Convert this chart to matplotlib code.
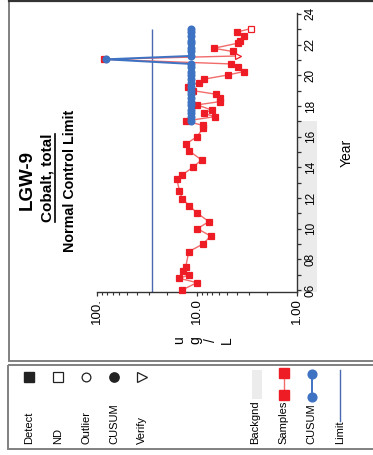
import matplotlib
matplotlib.use('Agg')
import matplotlib.pyplot as plt
import matplotlib.transforms as mtransforms
from matplotlib.patches import Rectangle
from matplotlib.lines import Line2D
from matplotlib.ticker import FixedLocator, FixedFormatter, LogLocator, NullFormatter, MultipleLocator

plt.rcParams['font.family'] = ['Liberation Sans', 'DejaVu Sans']

# ---------------- data ----------------
sample_years = [6.00, 6.48, 6.76, 6.98, 7.26, 7.48, 8.50, 9.00, 9.52, 10.00,
                10.46, 11.00, 11.48, 11.96, 12.48, 13.26, 13.50, 14.00, 14.48, 15.09,
                15.50, 16.00, 16.54, 16.74, 17.02, 17.30, 17.52, 17.74, 18.07, 18.28,
                18.50, 18.76, 19.00, 19.26, 19.52, 19.74, 20.02, 20.24, 20.52, 20.74,
                21.04, 21.26, 21.55, 21.76, 22.09, 22.26, 22.57, 22.81, 23.04]
sample_values = [14.1, 10.0, 15.0, 12.1, 13.9, 13.0, 12.1, 8.7, 7.3, 9.9,
                 7.6, 9.9, 11.9, 14.1, 15.0, 16.0, 14.1, 11.0, 9.0, 12.1,
                 13.0, 10.0, 8.7, 8.8, 13.0, 6.6, 8.6, 7.15, 10.0, 5.9,
                 5.9, 6.4, 11.0, 12.4, 9.6, 8.6, 4.9, 3.4, 3.9, 4.6,
                 85.0, 3.85, 4.4, 6.8, 3.9, 3.7, 3.4, 4.0, 2.9]
# D = detect, V = verify, N = non-detect
sample_flags = ['D'] * 41 + ['V'] + ['D'] * 6 + ['N']

cusum_years = [17.02, 17.30, 17.52, 17.74, 18.07, 18.28, 18.50, 18.76, 19.00, 19.26,
               19.52, 19.74, 20.02, 20.24, 20.52, 20.74, 21.04, 21.26, 21.55, 21.76,
               22.09, 22.26, 22.57, 22.81, 23.04]
cusum_values = [11.6] * 16 + [82.0] + [11.6] * 8

limit_value = 28.0
background_years = [5.85, 17.05]

year_ticks = [6, 8, 10, 12, 14, 16, 18, 20, 22, 24]
year_labels = ['06', '08', '10', '12', '14', '16', '18', '20', '22', '24']
conc_ticks = [1, 10, 100]
conc_labels = ['1.00', '10.0', '100.']

legend_symbols = ['Detect', 'ND', 'Outlier', 'CUSUM', 'Verify']
legend_series = ['Backgnd', 'Samples', 'CUSUM', 'Limit']

RED = '#EE1C25'
RED_LINE = '#F26B6B'
BLUE = '#3E72C2'
LIMIT = '#4A68B0'

W, H = 373, 455
fig = plt.figure(figsize=(W / 100, H / 100), dpi=100)

def fx(px):
    return px / W

def fy(py):
    return 1 - py / H

# overlay axes in pixel coordinates for frames and legend
lax = fig.add_axes([0, 0, 1, 1])
lax.set_xlim(0, W)
lax.set_ylim(H, 0)
lax.axis('off')
lax.set_zorder(-1)

# panel frames
lax.add_patch(Rectangle((8.7, 0.8), 380, 360.0, fill=False, edgecolor='#808080', lw=1.4))
lax.plot([8.7, 380], [0.8, 0.8], color='#333333', lw=1.6)
lax.add_patch(Rectangle((8.2, 365.3), 380, 83.7, fill=False, edgecolor='#808080', lw=1.4))

# ---------------- main axes ----------------
ax_l, ax_r, ax_t, ax_b = 97.3, 296.7, 13.3, 292.3
ax = fig.add_axes([fx(ax_l), fy(ax_b), (ax_r - ax_l) / W, (ax_b - ax_t) / H])
ax.patch.set_visible(False)
ax.set_xscale('log')
ax.set_xlim(100, 1)
ax.set_ylim(5.85, 24.04)

for s in ['left', 'top']:
    ax.spines[s].set_visible(False)
for s in ['right', 'bottom']:
    ax.spines[s].set_color('#333333')
    ax.spines[s].set_linewidth(1.0)

ax.yaxis.tick_right()
ax.yaxis.set_major_locator(FixedLocator(year_ticks))
ax.yaxis.set_major_formatter(FixedFormatter(year_labels))
ax.yaxis.set_minor_locator(MultipleLocator(1))
ax.tick_params(axis='y', which='both', direction='out', length=2.9, width=0.9,
               color='#333333', labelsize=8.5, labelrotation=90, pad=3)
for lab in ax.get_yticklabels():
    lab.set_va('center')

ax.xaxis.set_major_locator(FixedLocator(conc_ticks))
ax.xaxis.set_major_formatter(FixedFormatter(conc_labels))
ax.xaxis.set_minor_locator(LogLocator(base=10, subs=range(2, 10)))
ax.xaxis.set_minor_formatter(NullFormatter())
ax.tick_params(axis='x', which='major', direction='out', length=2.9, width=0.9,
               color='#333333', labelsize=9.5, labelrotation=90, pad=1.5)
ax.tick_params(axis='x', which='minor', direction='out', length=2.3, width=0.8,
               color='#333333')

# background shading next to year axis
trans = mtransforms.blended_transform_factory(ax.transAxes, ax.transData)
ax.add_patch(Rectangle((1.0, background_years[0]), 20 / (ax_r - ax_l),
                       background_years[1] - background_years[0],
                       transform=trans, clip_on=False, facecolor='#EBEBEB',
                       edgecolor='none', zorder=0.5))

# limit line
ax.vlines(limit_value, ax.get_ylim()[0], sample_years[-1], color=LIMIT, lw=1.0, zorder=2)

# samples
ax.plot(sample_values, sample_years, color=RED_LINE, lw=1.0, zorder=3, clip_on=False)
for flag, mk, fc in [('D', 's', RED), ('N', 's', 'white'), ('V', '>', 'white')]:
    xs = [v for v, f in zip(sample_values, sample_flags) if f == flag]
    ys = [y for y, f in zip(sample_years, sample_flags) if f == flag]
    ax.plot(xs, ys, ls='none', marker=mk, ms=5.0, mfc=fc, mec=RED, mew=0.9,
            zorder=4, clip_on=False)

# CUSUM
ax.plot(cusum_values, cusum_years, color=BLUE, lw=1.4, marker='o', ms=4.8,
        mfc=BLUE, mec=BLUE, zorder=5, clip_on=False)

# axis titles
ax.text(1.25, 0.5, 'Year', transform=ax.transAxes, rotation=90,
        ha='center', va='center', fontsize=10)
lax.text(203, 340, 'u\ng\n/\nL', rotation=90, ha='center', va='center',
         fontsize=10, linespacing=1.15)

# chart titles
lax.text(27, 180, 'LGW-9', rotation=90, ha='center', va='center',
         fontsize=13.5, fontweight='bold')
t_sub = lax.text(48, 178, 'Cobalt, total', rotation=90, ha='center', va='center',
                 fontsize=11, fontweight='bold')
lax.text(70, 181, 'Normal Control Limit', rotation=90, ha='center', va='center',
         fontsize=10.3, fontweight='bold')

# underline subtitle
fig.canvas.draw()
bb = t_sub.get_window_extent().transformed(lax.transData.inverted())
x_ul = max(bb.x0, bb.x1) + 0.3
lax.plot([x_ul, x_ul], [min(bb.y0, bb.y1), max(bb.y0, bb.y1)], color='black', lw=1.2)

# ---------------- legend panel ----------------
sym_x = [29.3, 58.3, 86, 114, 141.7]
sym_y = 377
lax.plot(sym_x[0], sym_y, marker='s', ms=6.7, mfc='#222222', mec='#222222', ls='none')
lax.plot(sym_x[1], sym_y, marker='s', ms=6.5, mfc='white', mec='#222222', mew=0.9, ls='none')
lax.plot(sym_x[2], sym_y, marker='o', ms=6.3, mfc='white', mec='#222222', mew=0.9, ls='none')
lax.plot(sym_x[3], sym_y, marker='o', ms=6.7, mfc='#222222', mec='#222222', ls='none')
lax.plot(sym_x[4], sym_y, marker='>', ms=6.5, mfc='white', mec='#222222', mew=0.9, ls='none')
for x, lab in zip(sym_x, legend_symbols):
    lax.text(x, 444.5, lab, rotation=90, ha='center', va='bottom', fontsize=8)

ser_x = [255, 283.5, 311.7, 340]
lax.add_patch(Rectangle((251.7, 370), 10.6, 29, facecolor='#ECECEC', edgecolor='none'))
lax.plot([284, 284], [373.3, 395], color=RED_LINE, lw=1.0, marker='s', ms=6.5,
         mfc=RED, mec=RED)
lax.plot([311.7, 311.7], [373.5, 396.5], color=BLUE, lw=1.4, marker='o', ms=6.3,
         mfc=BLUE, mec=BLUE)
lax.plot([340, 340], [370, 421], color=LIMIT, lw=1.0)
for x, lab in zip(ser_x, legend_series):
    lax.text(x, 444.5, lab, rotation=90, ha='center', va='bottom', fontsize=8)

fig.savefig('out.png', dpi=100)
